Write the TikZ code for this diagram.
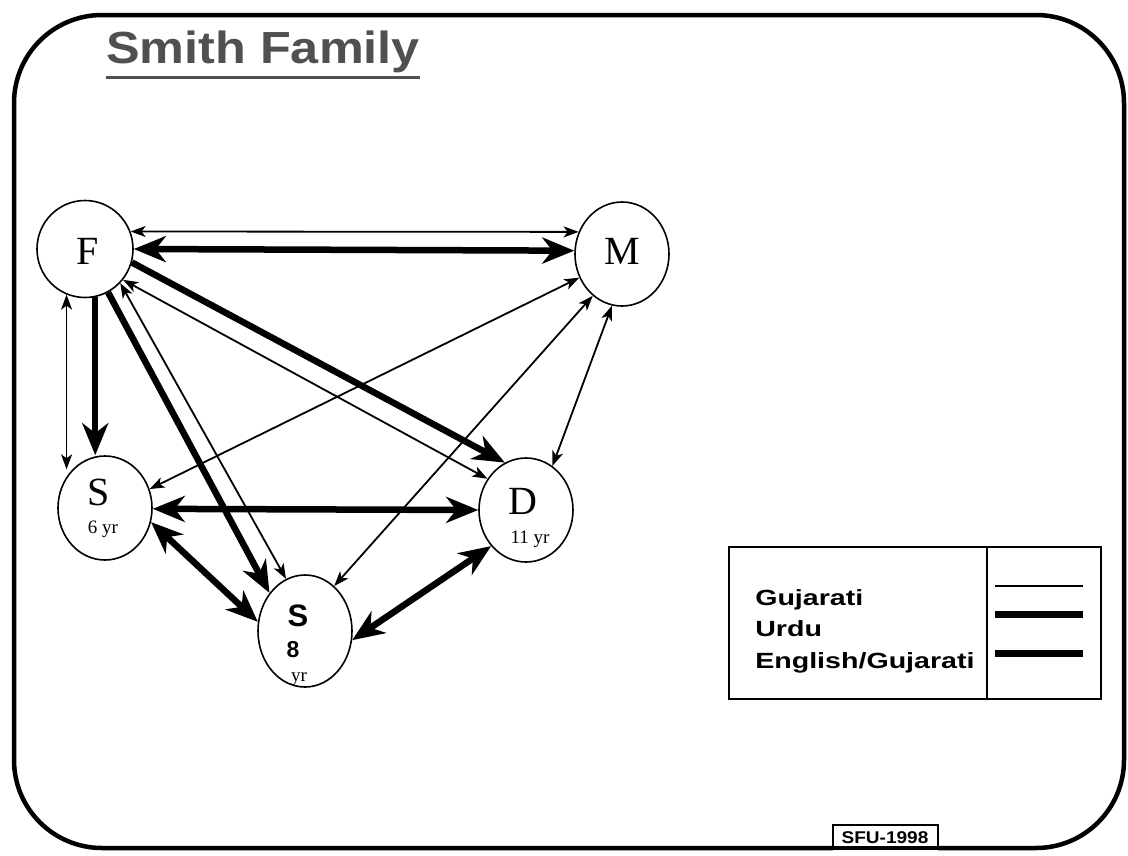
\documentclass[tikz,border=0pt]{standalone}
\usepackage{fontspec}
\setmainfont{Liberation Serif}
\setsansfont{Liberation Sans}
\usetikzlibrary{arrows.meta,shapes.geometric,calc}
\definecolor{titlegrey}{HTML}{505050}
\tikzset{
  thintip/.tip={Stealth[length=15pt,width=11pt,inset=4pt]},
  bigtip/.tip={Stealth[length=32pt,width=26pt,inset=10pt]},
  person/.style={draw, ellipse, line width=1.6pt, minimum width=94pt, minimum height=104pt, inner sep=0pt},
  thinline/.style={line width=1.8pt},
  thickline/.style={line width=6.5pt},
  serifbig/.style={font=\fontsize{40}{40}\selectfont, inner sep=0pt},
  serifsmall/.style={font=\fontsize{19}{19}\selectfont, inner sep=0pt},
  legtext/.style={font=\sffamily\bfseries\fontsize{22}{31.5}\selectfont, align=left, inner sep=0pt, anchor=north west, xscale=1.3},
}
\begin{document}
\begin{tikzpicture}[x=1pt,y=-1pt]
\useasboundingbox (0,0) rectangle (1128,855);
% frame
\draw[line width=4.5pt, rounded corners=88pt] (14,15) rectangle (1124,848);
% SFU box
\node[draw, line width=2pt, fill=white, minimum width=105pt, minimum height=24pt, inner sep=0pt] (sfu) at (885.5,837) {};
\node[font=\sffamily\bfseries\fontsize{17}{17}\selectfont, inner sep=0pt, xscale=1.12] (sfut) at (885,838) {SFU-1998};
\fill[white] (833,848.5) rectangle (938,852);
\draw[line width=4.5pt] (828,848) -- (943,848);
% title
\node[anchor=base west, inner sep=0pt, text=titlegrey,
      font=\sffamily\bfseries\fontsize{45}{45}\selectfont, xscale=1.12] (title) at (106,63) {Smith Family};
\draw[titlegrey, line width=3pt] (title.south west |- 0,77) -- (title.south east |- 0,77);

% people
\node[person, minimum width=96pt, minimum height=97pt] (F) at (85,249) {};
\node[person] (M) at (622,254) {};
\node[person] (S6) at (105,508) {};
\node[person] (D) at (526,510) {};
\node[person, minimum height=112pt] (S8) at (305,631) {};

\node[serifbig] (Ft) at (88,251) {F};
\node[serifbig] (Mt) at (622,251) {M};
\node[serifbig] (S6t) at (99,492) {S};
\node[serifsmall] (S6a) at (103,529) {6 yr};
\node[serifbig] (Dt) at (523,501) {D};
\node[serifsmall] (Da) at (530,539) {11 yr};
\node[font=\sffamily\bfseries\fontsize{31}{31}\selectfont, inner sep=0pt] (S8t) at (298,616) {S};
\node[font=\sffamily\bfseries\fontsize{23}{23}\selectfont, inner sep=0pt] (S8a) at (293,650) {8};
\node[serifsmall] (S8b) at (299,679) {yr};

% connectors
\draw[thinline, thintip-thintip] (F.21) -- (M.153);
\draw[thickline, bigtip-bigtip] (F.0) -- (M.176);
\draw[thickline, -bigtip] (F.-16) -- (D.114);
\draw[thinline, thintip-thintip] (F.-39) -- (D.141);
\draw[thinline, thintip-thintip] (F.-112) -- (F.-112 |- S6.130);
\draw[thickline, -bigtip] (F.-78) -- (F.-78 |- S6.north);
\draw[thickline, -bigtip] (F.-62) -- (S8.133);
\draw[thinline, thintip-thintip] (F.-44) -- (S8.110);
\draw[thinline, thintip-thintip] (M.-151) -- (S6.23);
\draw[thinline, thintip-thintip] (M.-125) -- (S8.57);
\draw[thinline, thintip-thintip] (M.-101) -- (D.59);
\draw[thickline, bigtip-bigtip] (S6.-1) -- (D.180);
\draw[thickline, bigtip-bigtip] (S6.-17) -- (S8.169);
\draw[thickline, bigtip-bigtip] (S8.-11) -- (D.-134);

% legend
\node[draw, line width=2pt, minimum width=372pt, minimum height=152pt, inner sep=0pt] (leg) at (915,623) {};
\draw[line width=2pt] (leg.north west -| 987,0) -- (leg.south west -| 987,0);
\node[legtext] (legt) at (755,589) {Gujarati\\Urdu\\English/Gujarati};
\coordinate (l1a) at (995,586);
\coordinate (l1b) at (1083,586);
\coordinate (l2a) at (995,614);
\coordinate (l2b) at (1083,614);
\coordinate (l3a) at (995,653);
\coordinate (l3b) at (1083,653);
\draw[line width=2.5pt] (l1a) -- (l1b);
\draw[line width=7pt] (l2a) -- (l2b);
\draw[line width=7pt] (l3a) -- (l3b);
\end{tikzpicture}
\end{document}
